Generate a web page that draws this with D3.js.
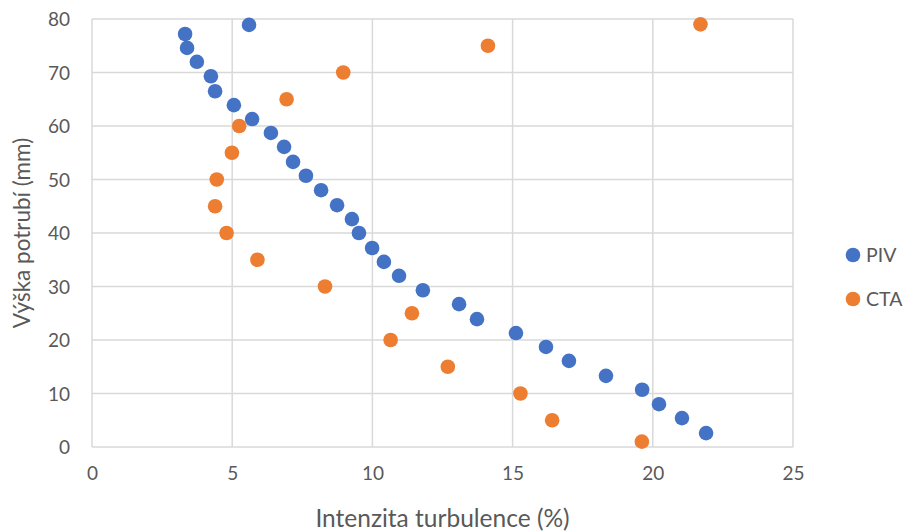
<!DOCTYPE html>
<html><head><meta charset="utf-8">
<script src="https://cdn.jsdelivr.net/npm/d3@7"></script>
<style>body{margin:0;background:#fff}text{font-family:Lato,"Open Sans",sans-serif}</style>
</head><body>
<svg id="c" width="905" height="531"></svg>
<script>
const pivX = [5.60,3.32,3.39,3.74,4.24,4.39,5.06,5.71,6.38,6.85,7.17,7.63,8.17,8.74,9.27,9.52,9.99,10.41,10.95,11.80,13.09,13.73,15.12,16.19,17.01,18.33,19.62,20.22,21.04,21.90];
const pivY = [78.9,77.2,74.6,72.0,69.3,66.5,63.9,61.3,58.7,56.1,53.3,50.7,48.0,45.2,42.6,40.0,37.2,34.6,32.0,29.3,26.7,23.9,21.3,18.7,16.1,13.3,10.7,8.0,5.4,2.6];
const ctaX = [21.70,14.12,8.96,6.94,5.25,4.99,4.45,4.39,4.80,5.90,8.31,11.41,10.65,12.69,15.28,16.41,19.61];
const ctaY = [79,75,70,65,60,55,50,45,40,35,30,25,20,15,10,5,1];
const xTicks = [0,5,10,15,20,25];
const yTicks = [0,10,20,30,40,50,60,70,80];
const seriesNames = ["PIV","CTA"];
const colors = ["#4472C4","#ED7D31"];

const svg = d3.select("#c");
const L=92,R=793,T=19,B=447;
const x = d3.scaleLinear().domain([0,25]).range([L,R]);
const y = d3.scaleLinear().domain([0,80]).range([B,T]);

// grid
svg.append("g").selectAll("line").data(xTicks).join("line")
  .attr("x1",d=>x(d)).attr("x2",d=>x(d)).attr("y1",T).attr("y2",B)
  .attr("stroke","#D9D9D9").attr("stroke-width",1.5);
svg.append("g").selectAll("line").data(yTicks).join("line")
  .attr("x1",L).attr("x2",R).attr("y1",d=>y(d)).attr("y2",d=>y(d))
  .attr("stroke","#D9D9D9").attr("stroke-width",1.5);

// axes labels
const xa = svg.append("g").attr("transform",`translate(0,${B})`)
  .call(d3.axisBottom(x).tickValues(xTicks).tickSize(0).tickPadding(20));
const ya = svg.append("g").attr("transform",`translate(${L},0)`)
  .call(d3.axisLeft(y).tickValues(yTicks).tickSize(0).tickPadding(22));
[xa,ya].forEach(a=>{a.select(".domain").remove();
  a.selectAll("text").attr("fill","#595959").style("font-size","19px").style("font-family","Lato");});
ya.selectAll("text").attr("dy","0.35em");

svg.append("text").attr("x",(L+R)/2).attr("y",527).attr("text-anchor","middle")
  .attr("fill","#595959").style("font-size","24.5px").text("Intenzita turbulence (%)");
svg.append("text").attr("transform",`translate(30,${(T+B)/2}) rotate(-90)`).attr("text-anchor","middle")
  .attr("fill","#595959").style("font-size","22.5px").text("Výška potrubí (mm)");

// points
const data = [pivX.map((v,i)=>({x:v,y:pivY[i]})), ctaX.map((v,i)=>({x:v,y:ctaY[i]}))];
data.forEach((s,k)=>{
  svg.append("g").selectAll("circle").data(s).join("circle")
    .attr("cx",d=>x(d.x)).attr("cy",d=>y(d.y)).attr("r",7.3).attr("fill",colors[k]);
});

// legend
const lg = svg.append("g");
seriesNames.forEach((n,k)=>{
  const yy = 255 + k*44;
  lg.append("circle").attr("cx",853).attr("cy",yy).attr("r",7.3).attr("fill",colors[k]);
  lg.append("text").attr("x",866).attr("y",yy).attr("dy","0.36em").attr("fill","#595959")
    .style("font-size","19.5px").text(n);
});
</script>
</body></html>
